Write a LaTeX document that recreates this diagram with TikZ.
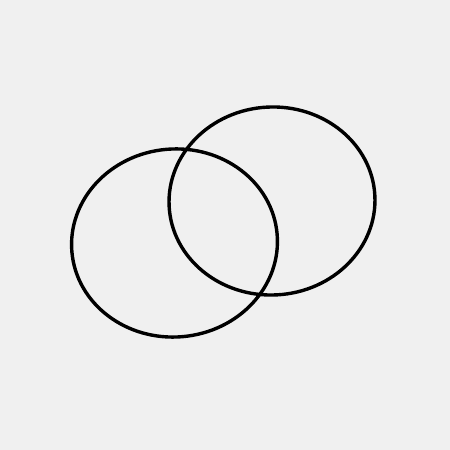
\documentclass[tikz,border=0pt]{standalone}
\definecolor{bg}{HTML}{F0F0F0}
\begin{document}
\begin{tikzpicture}[x=1pt,y=1pt,
  ring/.style={draw=black, line width=3.4pt}]
\fill[bg] (0,0) rectangle (450,450);
\useasboundingbox (0,0) rectangle (450,450);
\draw[ring, rotate around={5:(174.5,207)}] (174.5,207) ellipse [x radius=103, y radius=94];
\draw[ring, rotate around={3:(272,249)}] (272,249) ellipse [x radius=103, y radius=94];
\end{tikzpicture}
\end{document}
